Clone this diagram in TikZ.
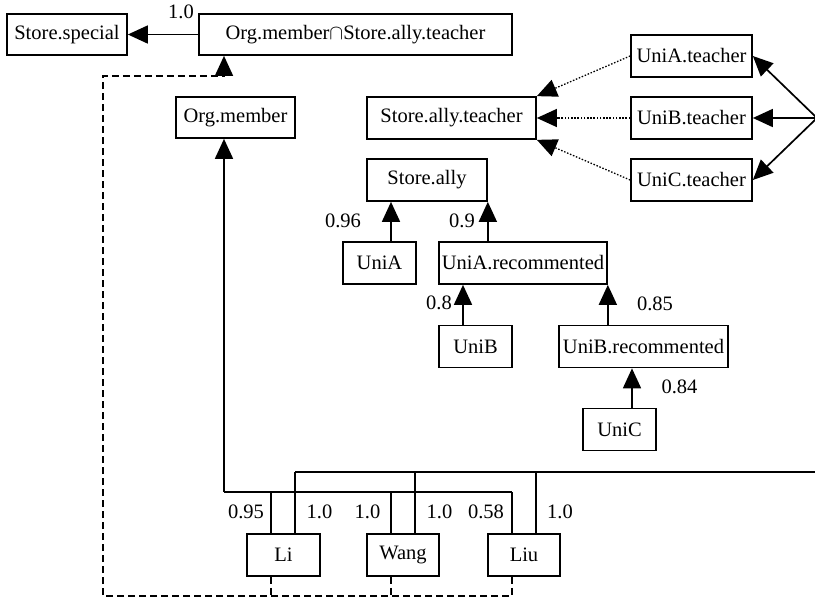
\documentclass[tikz,border=0pt]{standalone}
\usepackage{fontspec}
\setmainfont{Liberation Serif}
\usetikzlibrary{arrows.meta}
\begin{document}
\begin{tikzpicture}[x=1pt,y=-1pt,
  every node/.style={font=\fontsize{20.5}{24}\selectfont},
  box/.style={draw,line width=1.7pt,inner sep=0pt,minimum height=41pt,anchor=center},
  lbl/.style={inner sep=0pt,anchor=center},
  arr/.style={-{Triangle[length=20pt,width=18pt]}},
  ln/.style={line width=1.7pt},
  dsh/.style={line width=1.6pt,dash pattern=on 7pt off 4pt},
  dot/.style={line width=1.3pt,dash pattern=on 1.5pt off 1.7pt}]
\useasboundingbox (0,0) rectangle (815,598);
\clip (0,0) rectangle (815,598);
% boxes
\node[box,minimum width=120pt] (sspec) at (67,34.5) {Store.special};
\node[box,minimum width=313pt] (orgst) at (355.5,34.5) {Org.member$\cap$Store.ally.teacher};
\node[box,minimum width=119pt] (orgm) at (235.5,117.5) {Org.member};
\node[box,minimum width=169pt,minimum height=42pt] (sat) at (451.5,118) {Store.ally.teacher};
\node[box,minimum width=121pt,minimum height=42pt] (uat) at (691.5,56) {UniA.teacher};
\node[box,minimum width=121pt,minimum height=42pt] (ubt) at (691.5,118) {UniB.teacher};
\node[box,minimum width=121pt,minimum height=42pt] (uct) at (691.5,180) {UniC.teacher};
\node[box,minimum width=120pt,minimum height=42pt] (sally) at (427,180) {Store.ally};
\node[box,minimum width=73pt,minimum height=42pt] (unia) at (379.5,263) {UniA};
\node[box,minimum width=168pt,minimum height=42pt] (uniarec) at (523,263) {UniA.recommented};
\node[box,minimum width=73pt,minimum height=42pt] (unib) at (475.5,346.5) {UniB};
\node[box,minimum width=169pt,minimum height=42pt] (unibrec) at (643.5,346.5) {UniB.recommented};
\node[box,minimum width=73pt,minimum height=42pt] (unic) at (619.5,429.5) {UniC};
\node[box,minimum width=73pt,minimum height=42pt] (li) at (283.5,555) {Li};
\node[box,minimum width=72pt,minimum height=42pt] (wang) at (403,555) {Wang};
\node[box,minimum width=72pt,minimum height=42pt] (liu) at (524,555) {Liu};
% helper coordinates
\coordinate (omB) at (224,492);
\coordinate (liL) at (271,492);
\coordinate (waL) at (391,492);
\coordinate (luL) at (512,492);
\coordinate (liU) at (295,472);
\coordinate (waU) at (415,472);
\coordinate (luU) at (536,472);
\coordinate (rc) at (818,472);
\coordinate (hub) at (817,118);
\coordinate (dl) at (103,596);
\coordinate (dt) at (103,76);
\coordinate (xa) at (391,0);
\coordinate (xb) at (463,0);
\coordinate (xc) at (632,0);
% top arrow
\draw[ln,arr] (orgst.west) -- (sspec.east);
% dashed feedback
\draw[dsh,arr] (luL |- liu.south) -- (luL |- dl) -- (dl) -- (dt) -- (dt -| omB) -- (omB |- orgst.south);
\draw[dsh] (liL |- li.south) -- (liL |- dl);
\draw[dsh] (waL |- wang.south) -- (waL |- dl);
% lower solid connector to Org.member
\draw[ln,arr] (omB) -- (omB |- orgm.south);
\draw[ln] (omB) -- (luL);
\draw[ln] (liL) -- (liL |- li.north);
\draw[ln] (waL) -- (waL |- wang.north);
\draw[ln] (luL) -- (luL |- liu.north);
% upper solid connector to hub
\draw[ln] (liU) -- (rc) -- (hub);
\draw[ln] (liU) -- (liU |- li.north);
\draw[ln] (waU) -- (waU |- wang.north);
\draw[ln] (luU) -- (luU |- liu.north);
\draw[ln,arr] (hub) -- (uat.east);
\draw[ln,arr] (hub) -- (ubt.east);
\draw[ln,arr] (hub) -- (uct.east);
% dotted
\draw[dot,arr] (uat.west) -- (sat.north east);
\draw[dot,arr] (ubt.west) -- (sat.east);
\draw[dot,arr] (uct.west) -- (sat.south east);
% tree
\draw[ln,arr] (xa |- unia.north) -- (xa |- sally.south);
\draw[ln,arr] (sally.south east |- uniarec.north) -- (sally.south east);
\draw[ln,arr] (xb |- unib.north) -- (xb |- uniarec.south);
\draw[ln,arr] (uniarec.south east |- unibrec.north) -- (uniarec.south east);
\draw[ln,arr] (xc |- unic.north) -- (xc |- unibrec.south);
% labels
\node[lbl] (t10) at (181,12) {1.0};
\node[lbl] (t96) at (343,221) {0.96};
\node[lbl] (t9) at (462,221) {0.9};
\node[lbl] (t8) at (439,303) {0.8};
\node[lbl] (t85) at (655,304) {0.85};
\node[lbl] (t84) at (679.5,387) {0.84};
\node[lbl] (b1) at (246,512) {0.95};
\node[lbl] (b2) at (319.5,512) {1.0};
\node[lbl] (b3) at (367.5,512) {1.0};
\node[lbl] (b4) at (439.5,512) {1.0};
\node[lbl] (b5) at (486,512) {0.58};
\node[lbl] (b6) at (560,512) {1.0};
\end{tikzpicture}
\end{document}
